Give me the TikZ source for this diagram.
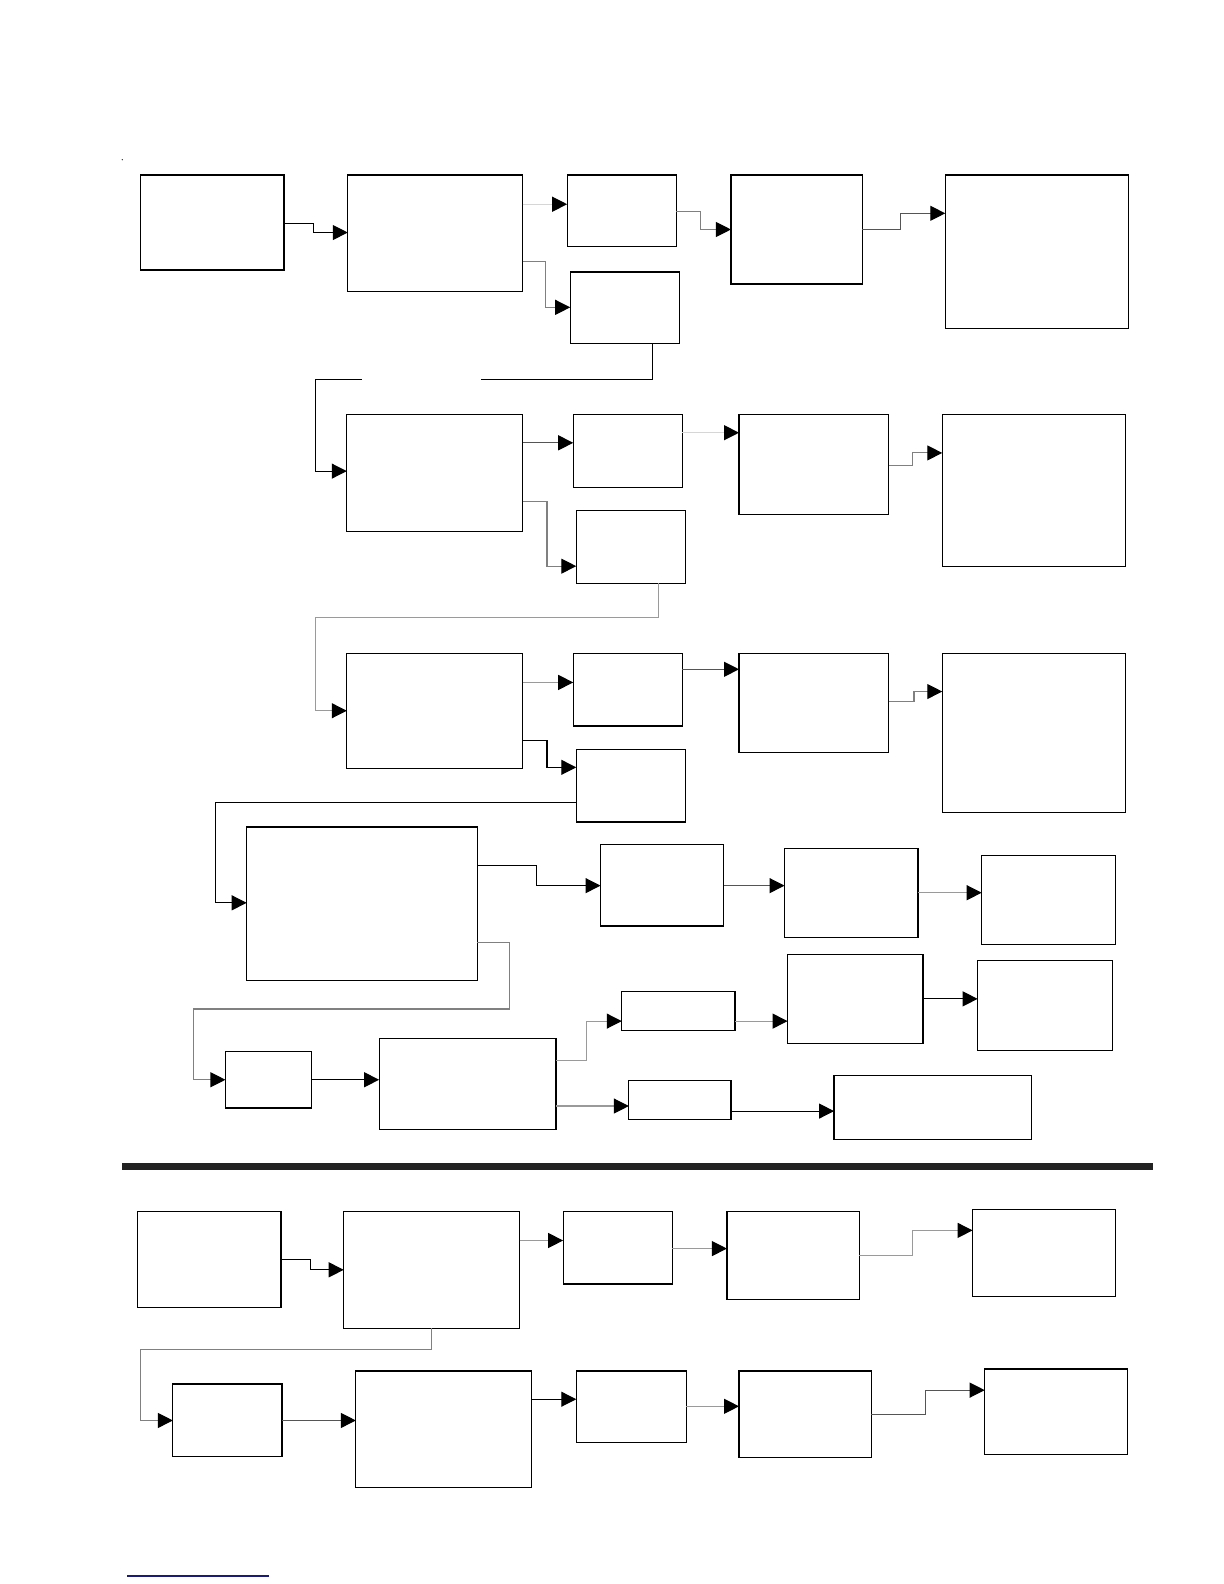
\documentclass[tikz,border=0pt]{standalone}
\usetikzlibrary{arrows.meta}
\definecolor{cdark}{HTML}{555555}
\definecolor{cmid}{HTML}{808080}
\definecolor{cgray}{HTML}{9A9A9A}
\definecolor{clight}{HTML}{D6D6D6}
\definecolor{barcol}{HTML}{222222}
\definecolor{navyline}{HTML}{1A1A7A}
\begin{document}
\begin{tikzpicture}[x=1.011pt,y=-1.011pt,
  box/.style={draw=black,line width=1.2pt,fill=white,rectangle,inner sep=0pt,outer sep=0pt,anchor=north west},
  conn/.style={line width=1.1pt,-{Triangle[length=15pt,width=15pt,black]}},
  plain/.style={line width=1.1pt}]
\useasboundingbox (0,0) rectangle (1210.68,1566.77);
\fill[white] (0,0) rectangle (1210.68,1566.77);
\newcommand{\bx}[5]{\node[box,minimum width={(#4-#2)*1.011pt},minimum height={(#5-#3)*1.011pt}] (#1) at (#2,#3) {};}
% row 1
\bx{A1}{139}{173}{281}{267}
\bx{B1}{344}{173}{517}{288}
\bx{C1}{561}{173}{669}{244}
\bx{D1}{564}{269}{672}{340}
\bx{E1}{723}{173}{853}{281}
\bx{F1}{935}{173}{1116}{325}
% row 2
\bx{B2}{343}{410}{517}{526}
\bx{C2}{567}{410}{675}{482}
\bx{D2}{570}{505}{678}{577}
\bx{E2}{731}{410}{879}{509}
\bx{F2}{932}{410}{1113}{560}
% row 3
\bx{B3}{343}{646}{517}{760}
\bx{C3}{567}{646}{675}{718}
\bx{D3}{570}{741}{678}{813}
\bx{E3}{731}{646}{879}{744}
\bx{F3}{932}{646}{1113}{804}
% row 4
\bx{G}{244}{818}{472}{970}
\bx{H}{594}{835}{716}{916}
\bx{I}{776}{839}{908}{927}
\bx{J}{971}{846}{1103}{934}
% row 5
\bx{K}{223}{1040}{308}{1096}
\bx{L}{375}{1027}{550}{1117}
\bx{M}{615}{981}{727}{1019}
\bx{N}{779}{944}{913}{1032}
\bx{O}{967}{950}{1100}{1039}
\bx{P}{622}{1069}{723}{1107}
\bx{Q}{825}{1064}{1020}{1127}
% lower section
\bx{A6}{136}{1198}{278}{1293}
\bx{B6}{340}{1198}{514}{1314}
\bx{C6}{557}{1198}{665}{1270}
\bx{D6}{719}{1198}{850}{1285}
\bx{E6}{962}{1196}{1103}{1282}
\bx{A7}{171}{1369}{279}{1441}
\bx{B7}{352}{1356}{526}{1471}
\bx{C7}{570}{1356}{679}{1427}
\bx{D7}{731}{1356}{862}{1442}
\bx{E7}{974}{1354}{1115}{1439}
% separator bar and footer line
\fill[barcol] (121,1150) rectangle (1140,1157);
\draw[navyline,line width=1.5pt] (126,1559) -- (266,1559);
\fill[black] (121,158) circle (0.6);
% row 1 connectors
\draw[conn,black] (A1.east|-0,221) -| (310,230) -- (B1.west|-0,230);
\draw[conn,clight] (B1.east|-0,202) -- (C1.west|-0,202);
\draw[conn,cmid] (B1.east|-0,259) -| (540,304) -- (D1.west|-0,304);
\draw[conn,cmid] (C1.east|-0,209) -| (693,227) -- (E1.west|-0,227);
\draw[conn,cdark] (E1.east|-0,227) -| (891,211) -- (F1.west|-0,211);
\coordinate (g1) at (476,375);
\coordinate (g2) at (358,375);
\draw[plain,black] (D1.south-|645,0) |- (g1);
\draw[conn,black] (g2) -| (312,466) -- (B2.west|-0,466);
% row 2 connectors
\draw[conn,cdark] (B2.east|-0,438) -- (C2.west|-0,438);
\draw[conn,cmid] (B2.east|-0,496) -| (541,560) -- (D2.west|-0,560);
\draw[conn,clight] (C2.east|-0,428) -- (E2.west|-0,428);
\draw[conn,cmid] (E2.east|-0,460) -| (903,448) -- (F2.west|-0,448);
\draw[conn,cgray] (D2.south-|651,0) |- (312,611) |- (B3.west|-0,703);
% row 3 connectors
\draw[conn,cgray] (B3.east|-0,675) -- (C3.west|-0,675);
\draw[conn,black] (B3.east|-0,732) -| (541,759) -- (D3.west|-0,759);
\draw[conn,cdark] (C3.east|-0,662) -- (E3.west|-0,662);
\draw[conn,cmid] (E3.east|-0,694) -| (904,684) -- (F3.west|-0,684);
\draw[conn,black] (D3.west|-0,794) -| (213,893) -- (G.west|-0,893);
% row 4 connectors
\draw[conn,black] (G.east|-0,856) -| (531,876) -- (H.west|-0,876);
\draw[conn,cdark] (H.east|-0,876) -- (I.west|-0,876);
\draw[conn,cgray] (I.east|-0,883) -- (J.west|-0,883);
\draw[conn,cmid] (G.east|-0,932) -| (504,998) -| (191,1068) -- (K.west|-0,1068);
% row 5 connectors
\draw[conn,black] (K.east|-0,1068) -- (L.west|-0,1068);
\draw[conn,cgray] (L.east|-0,1049) -| (580,1010) -- (M.west|-0,1010);
\draw[conn,cgray] (M.east|-0,1010) -- (N.west|-0,1010);
\draw[conn,black] (N.east|-0,988) -- (O.west|-0,988);
\draw[conn,cgray] (L.east|-0,1094) -- (P.west|-0,1094);
\draw[conn,black] (P.east|-0,1099) -- (Q.west|-0,1099);
% lower section connectors
\draw[conn,black] (A6.east|-0,1246) -| (307,1256) -- (B6.west|-0,1256);
\draw[conn,cgray] (B6.east|-0,1227) -- (C6.west|-0,1227);
\draw[conn,cgray] (C6.east|-0,1235) -- (D6.west|-0,1235);
\draw[conn,cgray] (D6.east|-0,1242) -| (903,1217) -- (E6.west|-0,1217);
\draw[conn,cmid] (B6.south-|427,0) |- (139,1335) |- (A7.west|-0,1405);
\draw[conn,cdark] (A7.east|-0,1405) -- (B7.west|-0,1405);
\draw[conn,black] (B7.east|-0,1384) -- (C7.west|-0,1384);
\draw[conn,cgray] (C7.east|-0,1391) -- (D7.west|-0,1391);
\draw[conn,cdark] (D7.east|-0,1399) -| (915,1375) -- (E7.west|-0,1375);
\end{tikzpicture}
\end{document}
